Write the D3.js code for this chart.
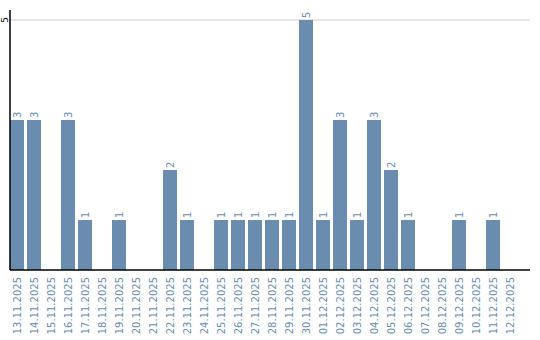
<!DOCTYPE html>
<html>
<head>
<meta charset="utf-8">
<script src="https://cdn.jsdelivr.net/npm/d3@7/dist/d3.min.js"></script>
<style>
  body { margin: 0; background: #fff; }
  text { font-family: "DejaVu Sans", sans-serif; }
</style>
</head>
<body>
<div id="chartArea"></div>
<script>
const dates = [
  '13.11.2025', '14.11.2025', '15.11.2025', '16.11.2025', '17.11.2025',
  '18.11.2025', '19.11.2025', '20.11.2025', '21.11.2025', '22.11.2025',
  '23.11.2025', '24.11.2025', '25.11.2025', '26.11.2025', '27.11.2025',
  '28.11.2025', '29.11.2025', '30.11.2025', '01.12.2025', '02.12.2025',
  '03.12.2025', '04.12.2025', '05.12.2025', '06.12.2025', '07.12.2025',
  '08.12.2025', '09.12.2025', '10.12.2025', '11.12.2025', '12.12.2025'
];
const counts = [3, 3, 0, 3, 1, 0, 1, 0, 0, 2, 1, 0, 1, 1, 1, 1, 1, 5, 1, 3, 1, 3, 2, 1, 0, 0, 1, 0, 1, 0];
const yTicks = [5];

const width = 540;
const height = 340;
const margin = { top: 10, left: 10, bottom: 70, right: 10 };
const barColor = '#6a8caf';

const svg = d3.select('#chartArea').append('svg')
  .attr('width', width)
  .attr('height', height);

const y = d3.scaleLinear().domain([0, 5.2]).range([height - margin.bottom, margin.top]);

const x = d3.scaleBand()
  .domain(dates)
  .range([margin.left, 517])
  .paddingInner(3 / 17)
  .paddingOuter(0);

// gridlines
svg.append('g')
  .selectAll('line')
  .data(yTicks)
  .enter()
  .append('line')
  .attr('x1', margin.left)
  .attr('x2', width - margin.right)
  .attr('y1', (d) => y(d))
  .attr('y2', (d) => y(d))
  .style('stroke', '#cccccc')
  .style('stroke-width', 1);

// bars
const data = dates.map((d, i) => [d, counts[i]]);
svg.append('g')
  .selectAll('rect')
  .data(data.filter((d) => d[1] > 0))
  .enter()
  .append('rect')
  .style('fill', barColor)
  .attr('x', (d) => x(d[0]))
  .attr('y', (d) => y(d[1]))
  .attr('width', x.bandwidth())
  .attr('height', (d) => y(0) - y(d[1]));

// value labels
svg.append('g')
  .selectAll('text')
  .data(data.filter((d) => d[1] > 0))
  .enter()
  .append('text')
  .attr('transform', (d) => `translate(${x(d[0]) + x.bandwidth() / 2},${y(d[1]) - 2}) rotate(-90)`)
  .attr('dy', '0.35em')
  .style('font-size', '10px')
  .style('fill', barColor)
  .text((d) => d[1]);

// x axis
const xAxis = svg.append('g')
  .attr('transform', `translate(0,${y(0)})`)
  .call(d3.axisBottom(x).tickSize(0).tickPadding(0));
xAxis.select('.domain').remove();
xAxis.selectAll('text')
  .attr('transform', 'rotate(-90)')
  .attr('x', -7)
  .attr('y', 0)
  .attr('dy', '0.35em')
  .style('text-anchor', 'end')
  .style('font-size', '10px')
  .style('font-family', '"DejaVu Sans", sans-serif')
  .style('fill', barColor);

svg.append('line')
  .attr('x1', margin.left)
  .attr('x2', width - margin.right)
  .attr('y1', y(0))
  .attr('y2', y(0))
  .style('stroke', '#000')
  .style('stroke-width', 1.5);

// y axis
svg.append('line')
  .attr('x1', margin.left)
  .attr('x2', margin.left)
  .attr('y1', margin.top)
  .attr('y2', y(0))
  .style('stroke', '#000')
  .style('stroke-width', 1.5);

svg.append('g')
  .selectAll('text')
  .data(yTicks)
  .enter()
  .append('text')
  .attr('transform', (d) => `translate(5,${y(d)}) rotate(-90)`)
  .attr('dy', '0.35em')
  .style('text-anchor', 'middle')
  .style('font-size', '9px')
  .style('fill', '#000')
  .text((d) => d);
</script>
</body>
</html>
